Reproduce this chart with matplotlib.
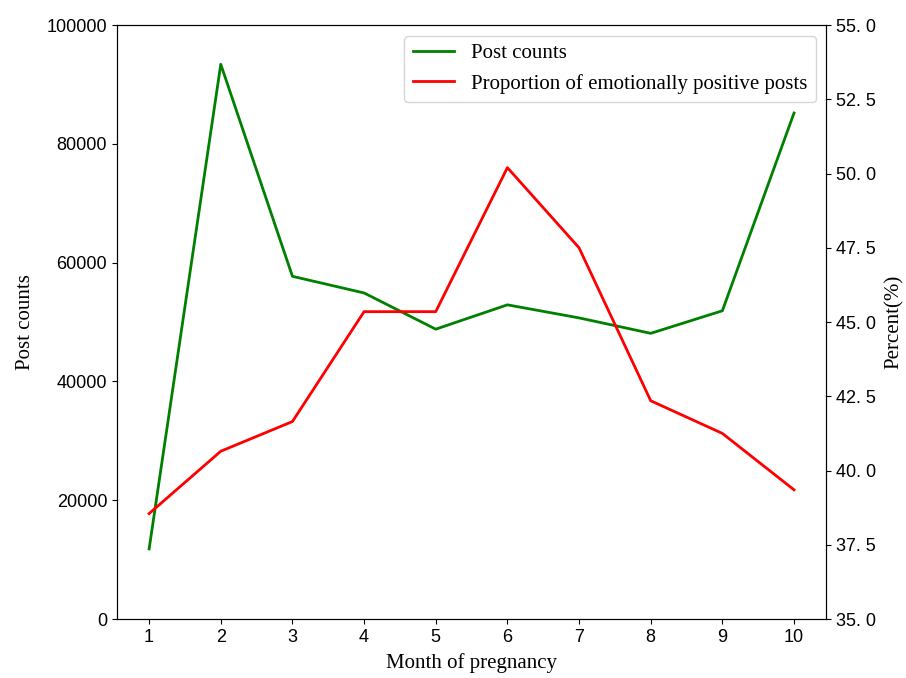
import numpy as np
import matplotlib.pyplot as plt
from matplotlib.ticker import FuncFormatter

months = [1, 2, 3, 4, 5, 6, 7, 8, 9, 10]
post_counts = [11800, 93400, 57700, 54900, 48800, 52900, 50700, 48100, 51900, 85200]
positive_pct = [38.55, 40.65, 41.65, 45.35, 45.35, 50.2, 47.5, 42.35, 41.25, 39.35]

serif = 'Liberation Serif'
sans = 'Liberation Sans'

fig = plt.figure(figsize=(9.06, 6.78), dpi=100)
ax1 = fig.add_axes([0.129, 0.087, 0.783, 0.876])
ax2 = ax1.twinx()

l1, = ax1.plot(months, post_counts, color='green', lw=2, label='Post counts')
l2, = ax2.plot(months, positive_pct, color='red', lw=2,
               label='Proportion of emotionally positive posts')

ax1.set_ylim(0, 100000)
ax2.set_ylim(35, 55)
ax1.set_xticks(months)
ax2.set_yticks(np.arange(35, 55.1, 2.5))
ax2.yaxis.set_major_formatter(FuncFormatter(lambda v, p: f'{v:.1f}'.replace('.', '. ')))

for ax in (ax1, ax2):
    for lab in ax.get_xticklabels() + ax.get_yticklabels():
        lab.set_fontfamily(sans)
        lab.set_fontsize(13)

ax1.set_xlabel('Month of pregnancy', fontfamily=serif, fontsize=15, labelpad=5)
ax1.set_ylabel('Post counts', fontfamily=serif, fontsize=15, labelpad=8)
ax2.set_ylabel('Percent(%)', fontfamily=serif, fontsize=15, labelpad=6)

ax1.legend(handles=[l1, l2], loc='upper right',
           prop={'family': serif, 'size': 15})

fig.savefig('out.png', dpi=100)
